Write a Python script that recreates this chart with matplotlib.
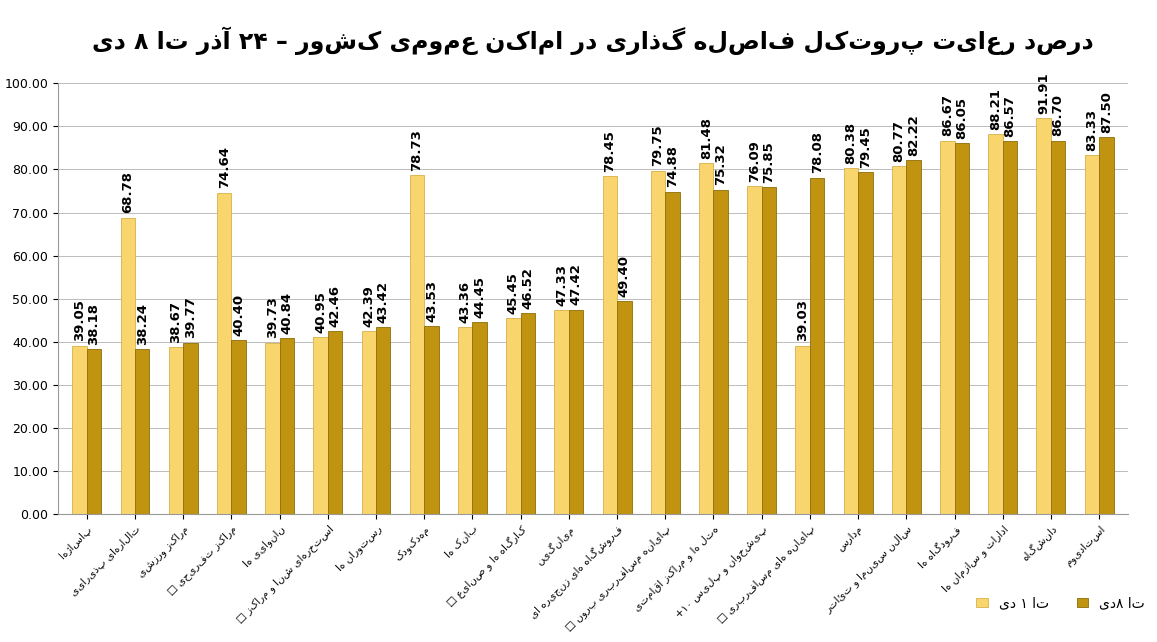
import re
import numpy as np
import matplotlib.pyplot as plt

plt.rcParams['font.family'] = ['DejaVu Sans']

categories = ["پاساژها", "تالارهای پذیرایی", "مراکز ورزشی", "مراکز تفریحی □",
              "نانوایی ها", "استخرهای شنا و مراکز □", "رستوران ها", "مهدکودک",
              "بانک ها", "کارگاه ها و صنایع □", "میانگین", "فروشگاه های زنجیره ای",
              "پایانه مسافربری برون □", "هتل ها و مراکز اقامتی", "پیشخوان و پلیس ۱۰+",
              "پایانه های مسافربری □", "مدارس", "سالن سینما و تئاتر", "فرودگاه ها",
              "ادارات و سازمان ها", "دانشگاه", "استادیوم"]
until_1dey = [39.05, 68.78, 38.67, 74.64, 39.73, 40.95, 42.39, 78.73, 43.36, 45.45, 47.33,
              78.45, 79.75, 81.48, 76.09, 39.03, 80.38, 80.77, 86.67, 88.21, 91.91, 83.33]
until_8dey = [38.18, 38.24, 39.77, 40.40, 40.84, 42.46, 43.42, 43.53, 44.45, 46.52, 47.42,
              49.40, 74.88, 75.32, 75.85, 78.08, 79.45, 82.22, 86.05, 86.57, 86.70, 87.50]


def rtl(s):
    # no shaping available: put characters in visual order, keep digit runs LTR
    r = s[::-1]
    return re.sub(r"[0-9۰-۹]+", lambda m: m.group(0)[::-1], r)


fig, ax = plt.subplots(figsize=(11.57, 6.42), dpi=100)
fig.subplots_adjust(left=0.05, right=0.975, top=0.87, bottom=0.2)

x = np.arange(len(categories))
w = 0.3
ax.bar(x - w / 2, until_1dey, w, color="#f9d56e", edgecolor="#d9b04a", lw=0.6,
       label=rtl("تا ۱ دی"))
ax.bar(x + w / 2, until_8dey, w, color="#c09310", edgecolor="#8f6c08", lw=0.6,
       label=rtl("تا ۸دی"))

for xi, v1, v2 in zip(x, until_1dey, until_8dey):
    ax.text(xi - w / 2, v1 + 1, f"{v1:.2f}", rotation=90, ha="center", va="bottom",
            fontsize=9.5, fontweight="bold")
    ax.text(xi + w / 2, v2 + 1, f"{v2:.2f}", rotation=90, ha="center", va="bottom",
            fontsize=9.5, fontweight="bold")

ax.set_ylim(0, 100)
ax.set_yticks(np.arange(0, 101, 10))
ax.set_yticklabels([f"{t:.2f}" for t in range(0, 101, 10)], fontsize=9)
ax.set_xlim(-0.6, len(categories) - 0.4)
ax.set_xticks(x)
ax.set_xticklabels([rtl(c) for c in categories], rotation=45, ha="right",
                   rotation_mode="anchor", fontsize=7.5)
ax.yaxis.grid(True, color="#bbbbbb", lw=0.7)
ax.set_axisbelow(True)
for s in ["top", "right"]:
    ax.spines[s].set_visible(False)
ax.spines["left"].set_color("#999999")
ax.spines["bottom"].set_color("#999999")

ax.set_title(rtl("درصد رعایت پروتکل فاصله گذاری در اماکن عمومی کشور – ۲۴ آذر تا ۸ دی"),
             fontsize=17, fontweight="bold", pad=25)
fig.legend(loc="lower right", bbox_to_anchor=(1.0, 0.03), ncol=2, frameon=False,
           fontsize=10, handlelength=0.8)

fig.savefig("out.png")
